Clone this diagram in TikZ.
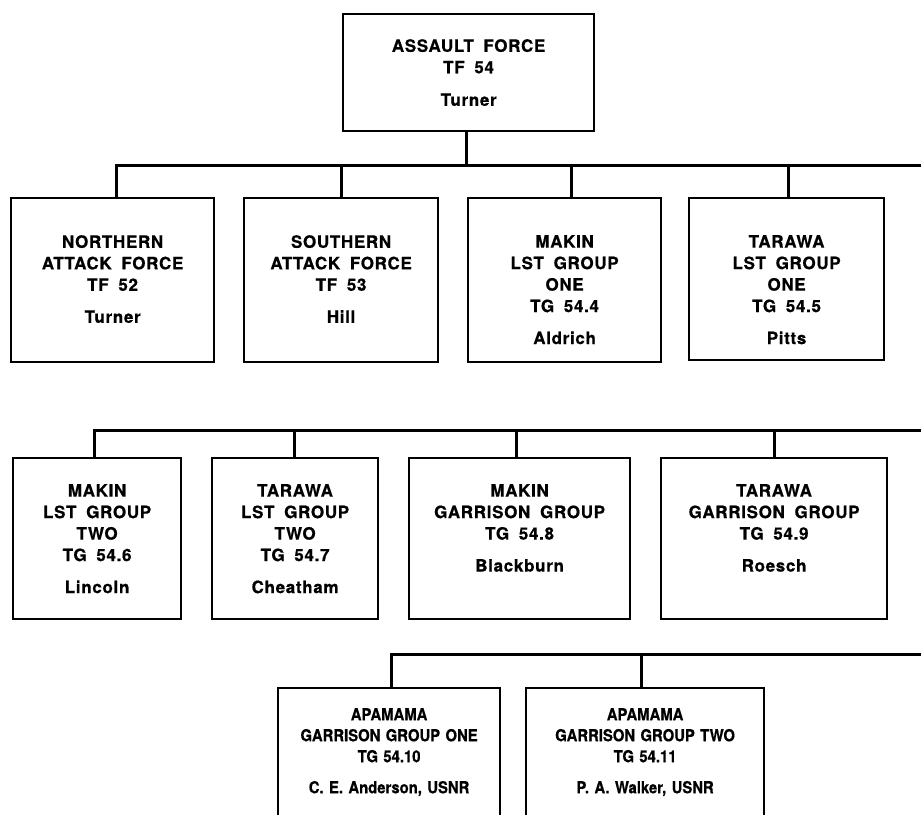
\documentclass[tikz,border=0pt]{standalone}
\usepackage{fontspec}
\setmainfont{TeX Gyre Heros}
\newfontfamily\orgfont{TeX Gyre Heros}[LetterSpace=4, WordSpace=1.8, FakeBold=0.6]
\newfontfamily\orgfontc{TeX Gyre Heros}[FakeStretch=0.9, WordSpace=1.3, FakeBold=0.6]
\tikzset{
  orgbox/.style={draw, line width=2.2pt, inner sep=0pt, anchor=north west},
  orglbl/.style={anchor=north, inner sep=0pt, align=center,
    font=\orgfont\bfseries\fontsize{17}{21.5}\selectfont},
  orglblc/.style={anchor=north, inner sep=0pt, align=center,
    font=\orgfontc\bfseries\fontsize{16.5}{21}\selectfont},
  conn/.style={line width=3pt}
}
\begin{document}
\begin{tikzpicture}[x=1pt,y=-1pt]
\fill[white] (0,0) rectangle (921,814);
\useasboundingbox (0,0) rectangle (921,814);

% top
\node[orgbox, minimum width=251pt, minimum height=117pt] (top) at (342,13) {};
\node[orglbl] (topt) at ([yshift=-26pt]top.north) {ASSAULT FORCE\\TF 54\\[11pt]Turner};

% row 1
\node[orgbox, minimum width=203pt, minimum height=164pt] (nb) at (10,197) {};
\node[orgbox, minimum width=194pt, minimum height=164pt] (sb) at (243,197) {};
\node[orgbox, minimum width=193pt, minimum height=164pt] (ma) at (467,197) {};
\node[orgbox, minimum width=195pt, minimum height=162pt] (ta) at (688,197) {};
\node[orglbl] (nbt) at ([yshift=-38pt]nb.north) {NORTHERN\\ATTACK FORCE\\TF 52\\[10.5pt]Turner};
\node[orglbl] (sbt) at ([yshift=-38pt]sb.north) {SOUTHERN\\ATTACK FORCE\\TF 53\\[10.5pt]Hill};
\node[orglbl] (mat) at ([yshift=-38pt]ma.north) {MAKIN\\LST GROUP\\ONE\\TG 54.4\\[10.5pt]Aldrich};
\node[orglbl] (tat) at ([yshift=-38pt]ta.north) {TARAWA\\LST GROUP\\ONE\\TG 54.5\\[10.5pt]Pitts};

% row 2
\node[orgbox, minimum width=168pt, minimum height=161pt] (mb) at (12,457) {};
\node[orgbox, minimum width=166pt, minimum height=161pt] (tb) at (211,457) {};
\node[orgbox, minimum width=221pt, minimum height=161pt] (mg) at (408,457) {};
\node[orgbox, minimum width=226pt, minimum height=161pt] (tg) at (660,457) {};
\node[orglbl] (mbt) at ([yshift=-27pt]mb.north) {MAKIN\\LST GROUP\\TWO\\TG 54.6\\[10.5pt]Lincoln};
\node[orglbl] (tbt) at ([yshift=-27pt]tb.north) {TARAWA\\LST GROUP\\TWO\\TG 54.7\\[10.5pt]Cheatham};
\node[orglbl] (mgt) at ([yshift=-27pt]mg.north) {MAKIN\\GARRISON GROUP\\TG 54.8\\[10.5pt]Blackburn};
\node[orglbl] (tgt) at ([yshift=-27pt]tg.north) {TARAWA\\GARRISON GROUP\\TG 54.9\\[10.5pt]Roesch};

% row 3
\node[orgbox, minimum width=222pt, minimum height=135pt] (ap1) at (277,687) {};
\node[orgbox, minimum width=238pt, minimum height=135pt] (ap2) at (525,687) {};
\node[orglblc] (ap1t) at ([yshift=-21pt]ap1.north) {APAMAMA\\GARRISON GROUP ONE\\TG 54.10\\[10pt]C. E. Anderson, USNR};
\node[orglblc] (ap2t) at ([yshift=-21pt]ap2.north) {APAMAMA\\GARRISON GROUP TWO\\TG 54.11\\[10pt]P. A. Walker, USNR};

% buses
\coordinate (bus1) at (921,165);
\coordinate (bus2) at (921,430);
\coordinate (bus3) at (921,654);

\draw[conn] ([xshift=-2.5pt]top.south) -- ([xshift=-2.5pt]top.south |- bus1);
\draw[conn] ([xshift=3.5pt]nb.north) -- ([xshift=3.5pt]nb.north |- bus1) -- (bus1);
\draw[conn] (sb.north) -- (sb.north |- bus1);
\draw[conn] ([xshift=6.5pt]ma.north) -- ([xshift=6.5pt]ma.north |- bus1);
\draw[conn] ([xshift=1.5pt]ta.north) -- ([xshift=1.5pt]ta.north |- bus1);

\draw[conn] ([xshift=-3pt]mb.north) -- ([xshift=-3pt]mb.north |- bus2) -- (bus2);
\draw[conn] ([xshift=-1pt]tb.north) -- ([xshift=-1pt]tb.north |- bus2);
\draw[conn] ([xshift=-3.5pt]mg.north) -- ([xshift=-3.5pt]mg.north |- bus2);
\draw[conn] (tg.north) -- (tg.north |- bus2);

\draw[conn] ([xshift=2pt]ap1.north) -- ([xshift=2pt]ap1.north |- bus3) -- (bus3);
\draw[conn] ([xshift=-4pt]ap2.north) -- ([xshift=-4pt]ap2.north |- bus3);
\end{tikzpicture}
\end{document}
